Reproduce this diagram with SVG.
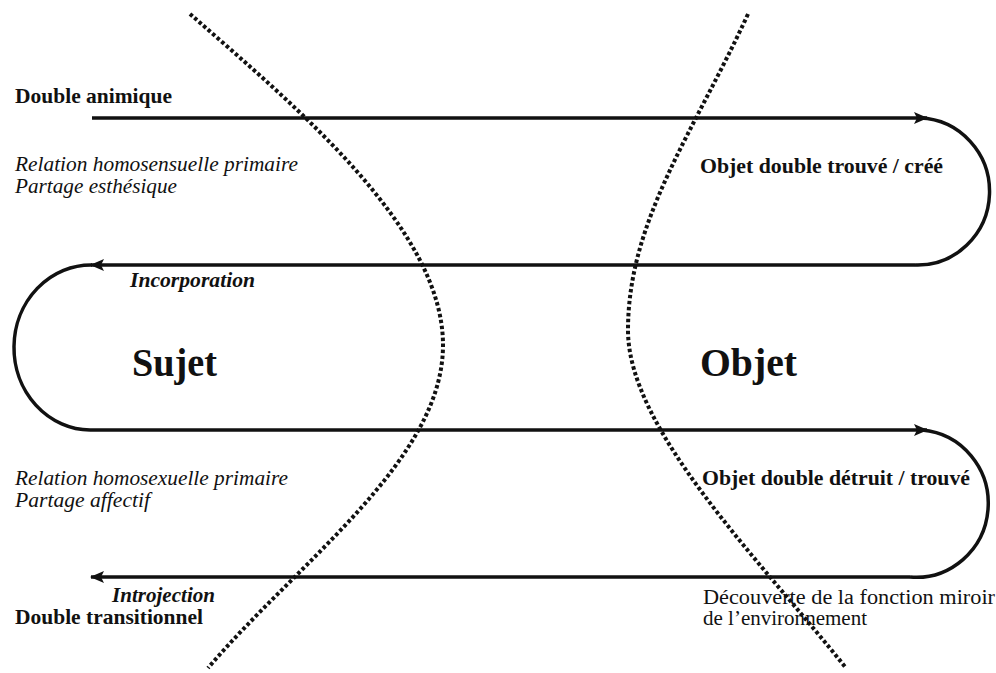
<svg xmlns="http://www.w3.org/2000/svg" width="996" height="673" viewBox="0 0 996 673">
<style>
text{font-family:"Liberation Serif","Times New Roman",serif;fill:#111;}
.b{font-weight:bold;font-size:21px;}
.i{font-style:italic;font-size:21px;}
.bi{font-weight:bold;font-style:italic;font-size:21px;}
.r{font-size:20px;}
.big{font-weight:bold;font-size:39px;}
.flow{fill:none;stroke:#111;stroke-width:3.5;}
.dot{fill:none;stroke:#111;stroke-width:4;stroke-dasharray:3.5 2.5;}
</style>
<defs>
<marker id="ah" markerUnits="userSpaceOnUse" markerWidth="14" markerHeight="12" refX="13" refY="6" orient="auto">
<path d="M0,0 L14,6 L0,12 L3,6 Z" fill="#111"/>
</marker>
</defs>
<rect width="996" height="673" fill="#fff"/>
<g id="boundaries">
<path class="dot" d="M190,14 C300,110 443,230 443,345 C443,460 300,560 208,668"/>
<path class="dot" d="M748,14 C695,130 628,220 628,330 C628,430 760,560 846,668"/>
</g>
<g id="connectors">
<line class="flow" x1="92" y1="118" x2="927" y2="118" marker-end="url(#ah)"/>
<path class="flow" d="M920,118 A72 73.5 0 0 1 915,265"/>
<line class="flow" x1="915" y1="265" x2="91" y2="265" marker-end="url(#ah)"/>
<path class="flow" d="M92,265 A77 82.5 0 0 0 90,430"/>
<line class="flow" x1="90" y1="430" x2="927" y2="430" marker-end="url(#ah)"/>
<path class="flow" d="M922,430 A72 73.5 0 0 1 910,577"/>
<line class="flow" x1="910" y1="577" x2="91" y2="577" marker-end="url(#ah)"/>
</g>
<g id="sujet"><text class="big" x="132" y="376" textLength="85" lengthAdjust="spacingAndGlyphs">Sujet</text></g>
<g id="objet"><text class="big" x="700" y="376" textLength="97" lengthAdjust="spacingAndGlyphs">Objet</text></g>
<g id="double-animique">
<text class="b" x="15" y="103" textLength="157" lengthAdjust="spacingAndGlyphs">Double animique</text>
<text class="i" x="15" y="171" textLength="283" lengthAdjust="spacingAndGlyphs">Relation homosensuelle primaire</text>
<text class="i" x="15" y="193" textLength="162" lengthAdjust="spacingAndGlyphs">Partage esthésique</text>
</g>
<g id="objet-trouve-cree"><text class="b" x="700" y="173" textLength="243" lengthAdjust="spacingAndGlyphs">Objet double trouvé / créé</text></g>
<g id="incorporation"><text class="bi" x="130" y="287" textLength="125" lengthAdjust="spacingAndGlyphs">Incorporation</text></g>
<g id="double-transitionnel">
<text class="i" x="15" y="485" textLength="273" lengthAdjust="spacingAndGlyphs">Relation homosexuelle primaire</text>
<text class="i" x="15" y="507" textLength="135" lengthAdjust="spacingAndGlyphs">Partage affectif</text>
<text class="bi" x="112" y="602" textLength="103" lengthAdjust="spacingAndGlyphs">Introjection</text>
<text class="b" x="15" y="624" textLength="188" lengthAdjust="spacingAndGlyphs">Double transitionnel</text>
</g>
<g id="objet-detruit-trouve"><text class="b" x="702" y="485" textLength="268" lengthAdjust="spacingAndGlyphs">Objet double détruit / trouvé</text></g>
<g id="fonction-miroir">
<text class="r" x="703" y="604" textLength="292" lengthAdjust="spacingAndGlyphs">Découverte de la fonction miroir</text>
<text class="r" x="703" y="625" textLength="164" lengthAdjust="spacingAndGlyphs">de l’environnement</text>
</g>
</svg>
